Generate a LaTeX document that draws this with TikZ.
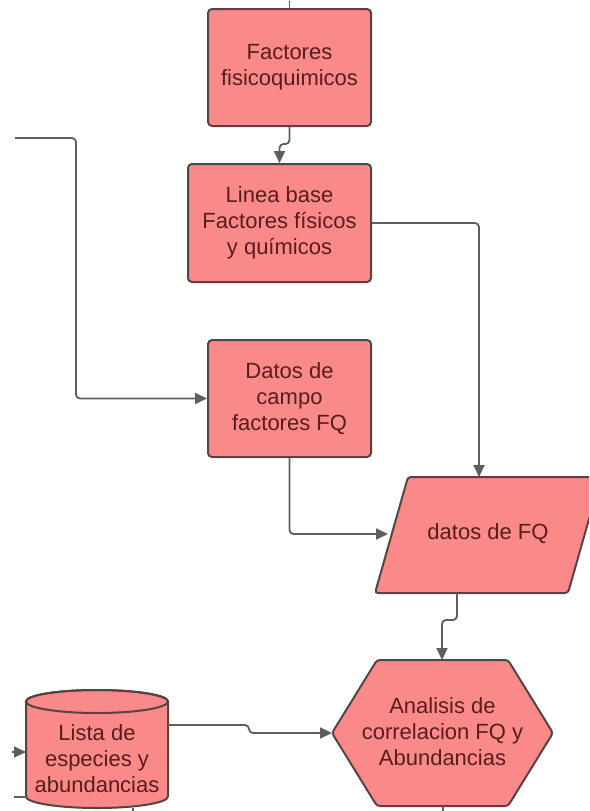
\documentclass[tikz,border=0pt]{standalone}
\usepackage{fontspec}
\setmainfont{Liberation Sans}
\usetikzlibrary{arrows.meta,calc}
\definecolor{boxfill}{HTML}{F98A89}
\definecolor{boxline}{HTML}{544444}
\definecolor{txt}{HTML}{5A1C1C}
\definecolor{conncol}{HTML}{5E5E5E}
\begin{document}
\begin{tikzpicture}[x=1pt,y=-1pt,
  proc/.style={draw=boxline, fill=boxfill, line width=2pt, rounded corners=4pt, align=center, text=txt, font=\fontsize{22}{26}\selectfont, inner sep=0pt},
  shapeline/.style={draw=boxline, fill=boxfill, line width=2pt, rounded corners=3pt},
  lbl/.style={align=center, text=txt, font=\fontsize{22}{26}\selectfont, inner sep=0pt},
  conn/.style={draw=conncol, line width=1.8pt, rounded corners=4pt},
  arr/.style={conn, -{Triangle[length=12pt,width=11pt]}}
]
\useasboundingbox (0,0) rectangle (589,811);
\begin{scope}
\clip (0,0) rectangle (589,811);
% rectangles
\node[proc, minimum width=163, minimum height=117] (f1) at (289.5,67.5) {Factores\\fisicoquimicos};
\node[proc, minimum width=183, minimum height=118] (f2) at (279.5,223) {Linea base\\Factores físicos\\y químicos};
\node[proc, minimum width=163, minimum height=117] (f3) at (289.5,398.5) {Datos de\\campo\\factores FQ};
% parallelogram
\draw[shapeline] (408,477) -- (601,477) -- (568,593) -- (375,593) -- cycle;
\node[lbl] (fq) at (488,534) {datos de FQ};
\coordinate (fqN) at (479,477);
\coordinate (fqW) at (388,534);
\coordinate (fqS) at (457,593);
% hexagon
\draw[shapeline] (377,660) -- (508,660) -- (553,733) -- (508,806) -- (377,806) -- (332,733) -- cycle;
\node[lbl] (hex) at (442.5,732) {Analisis de\\correlacion FQ y\\Abundancias};
\coordinate (hexN) at (442,660);
\coordinate (hexW) at (332,733);
% cylinder
\draw[shapeline, rounded corners=0pt] (26,701.5) -- (26,796.5) arc[start angle=180, end angle=0, x radius=71, y radius=11.5] -- (168,701.5) arc[start angle=0, end angle=-180, x radius=71, y radius=11.5] -- cycle;
\draw[draw=boxline, line width=2pt] (97,701.5) ellipse [x radius=71, y radius=11.5];
\node[lbl] (lista) at (97,759) {Lista de\\especies y\\abundancias};
\coordinate (listaE) at (168,725);
% connectors
\coordinate (inL) at (15,138);
\draw[arr] (f1.south) -- ++(0,17) -| (f2.north);
\draw[arr] (inL) -- (76,138) |- (f3.west);
\draw[arr] (f2.east) -| (fqN);
\draw[arr] (f3.south) |- (fqW);
\draw[arr] (fqS) -- ++(0,27) -| (hexN);
\draw[arr] (listaE) -- (249,725) |- (hexW);
% stubs of connectors cut by the frame
\draw[conn] (f1.north) -- ++(0,-7);
\coordinate (hexS) at (443,806);
\draw[conn] (hexS) -- ++(0,6);
\coordinate (listaS) at (133,808);
\draw[conn] (listaS) -- ++(0,4);
\coordinate (inA) at (12,752);
\coordinate (listaW1) at (26,752);
\draw[arr] (inA) -- (listaW1);
\coordinate (inB) at (14,797);
\coordinate (listaW2) at (26,797);
\draw[conn] (inB) -- (listaW2);
\end{scope}
\end{tikzpicture}
\end{document}
